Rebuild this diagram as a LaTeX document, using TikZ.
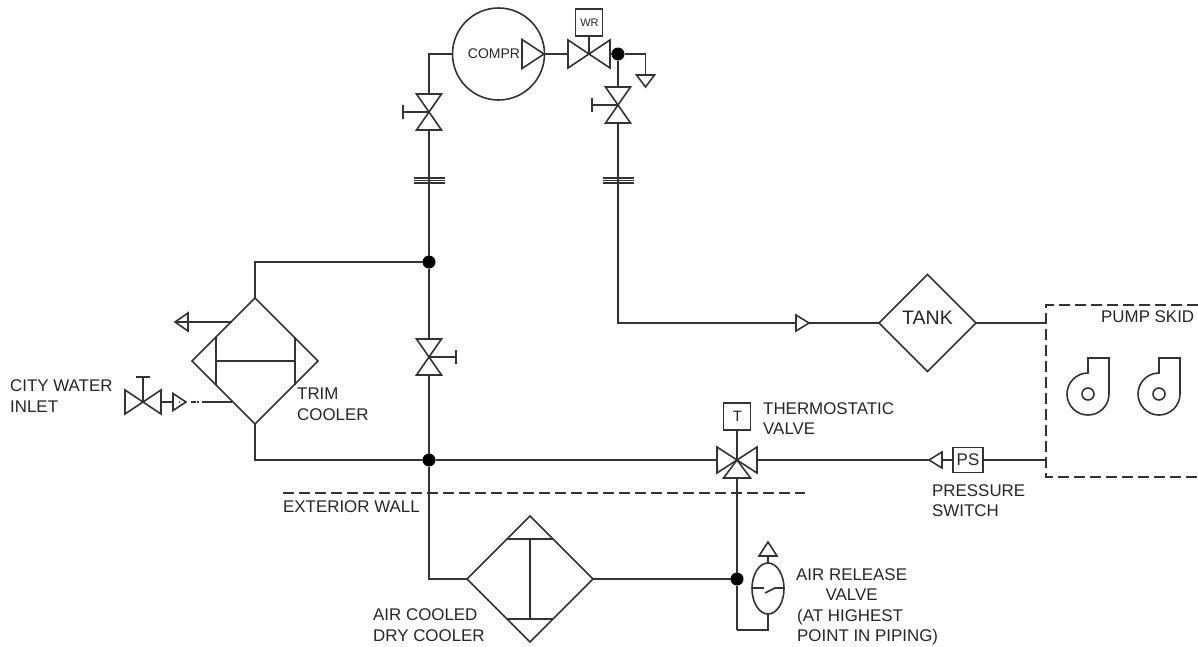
\documentclass[tikz,border=0pt]{standalone}
\usepackage{fontspec}
\setmainfont{Liberation Sans}
\usetikzlibrary{shapes.geometric}

\tikzset{
  pipe/.style={line width=1.6pt, draw=black!80},
  sym/.style={inner sep=0pt, outer sep=0pt, minimum width=#1},
  box/.style={draw=black!80, line width=1.6pt, inner sep=0pt, outer sep=0pt, minimum width=27pt, minimum height=27pt},
  dot/.style={circle, fill=black, inner sep=0pt, outer sep=0pt, minimum size=13pt},
  cooler/.style={diamond, draw=black!80, line width=1.6pt, inner sep=0pt, outer sep=0pt, minimum width=126pt, minimum height=126pt},
  lbl/.style={anchor=west, align=left, inner sep=0pt, text=black!85, font=\fontsize{16.9}{20.5}\selectfont}
}

\begin{document}
\begin{tikzpicture}[x=1pt, y=-1pt, >=stealth]

\useasboundingbox (0,0) rectangle (1198,646);

% main items
\node [circle, draw=black!80, line width=1.6pt, inner sep=0pt, outer sep=0pt, minimum size=92pt] (compr) at (498.5,54) {};
\node [cooler] (trim) at (255,361) {};
\node [cooler] (dry) at (530,579) {};
\node [diamond, draw=black!80, line width=1.6pt, inner sep=0pt, outer sep=0pt, minimum width=97pt, minimum height=97pt] (tank) at (927.5,323) {};
\node [text=black!85, font=\fontsize{19.5}{22}\selectfont] (tank-text) at (927.5,318) {TANK};
\node [ellipse, draw=black!80, line width=1.6pt, inner sep=0pt, outer sep=0pt, minimum width=32pt, minimum height=51pt] (release) at (768,588.5) {};

% valves
\node [sym=36pt, minimum height=24pt] (city-valve) at (143,402) {};
\node [sym=42pt, minimum height=28pt] (wr-valve) at (589,54) {};
\node [sym=40pt, minimum height=26pt] (t-valve) at (737,460) {};
\foreach \v in {city-valve,wr-valve,t-valve}
  \draw [pipe] (\v.north west) -- (\v.south east) -- (\v.north east) -- (\v.south west) -- cycle;

\node [sym=25pt, minimum height=36pt] (suction-valve) at (429,112) {};
\node [sym=25pt, minimum height=36pt] (return-valve) at (618,105) {};
\node [sym=25pt, minimum height=36pt] (bypass-valve) at (429,357) {};
\foreach \v in {suction-valve,return-valve,bypass-valve}
  \draw [pipe] (\v.north west) -- (\v.south east) -- (\v.south west) -- (\v.north east) -- cycle;

% triangles
\node [sym=22pt, minimum height=29pt] (compr-tip) at (533,54) {};
\node [sym=13pt, minimum height=17pt] (city-tip) at (179.5,402) {};
\node [sym=13pt, minimum height=16pt] (tank-tip) at (802.5,323) {};
\foreach \t in {compr-tip,city-tip,tank-tip}
  \draw [pipe] (\t.north west) -- (\t.east) -- (\t.south west) -- cycle;

\node [sym=13pt, minimum height=18pt] (trim-tip) at (181.5,322) {};
\node [sym=13pt, minimum height=16pt] (ps-tip) at (935.5,460) {};
\foreach \t in {trim-tip,ps-tip}
  \draw [pipe] (\t.north east) -- (\t.west) -- (\t.south east) -- cycle;

\node [sym=18pt, minimum height=14pt] (vent) at (768,549) {};
\node [sym=27pt, minimum height=18pt] (t-leg) at (737,469) {};
\foreach \t in {vent,t-leg}
  \draw [pipe] (\t.south west) -- (\t.north) -- (\t.south east) -- cycle;

\node [sym=18pt, minimum height=12pt] (drain) at (645.5,81) {};
\draw [pipe] (drain.north west) -- (drain.south) -- (drain.north east) -- cycle;

% instruments
\node [box] (wr) at (589,22.5) {};
\node [font=\fontsize{11}{12}\selectfont, text=black!85] (wr-text) at (589.5,23) {WR};
\node [box] (t-box) at (737,416.5) {};
\node [font=\fontsize{15}{16}\selectfont, text=black!85] (t-text) at (737.5,416.5) {T};
\node [box, minimum width=30pt, minimum height=25pt] (ps) at (968,460) {};
\node [font=\fontsize{16.9}{18}\selectfont, text=black!85] (ps-text) at (968,460) {PS};
\node [font=\fontsize{14}{16}\selectfont, text=black!85] (compr-text) at (494,54) {COMPR};

% junctions
\node [dot] (top-dot) at (618,54) {};
\node [dot] (mid-dot) at (429,262) {};
\node [dot] (low-dot) at (429,460) {};
\node [dot] (dry-dot) at (737,579) {};

% flanges
\node [sym=31pt, minimum height=5pt] (flange-1) at (429,180.5) {};
\node [sym=31pt, minimum height=5pt] (flange-2) at (618,180.5) {};
\foreach \f in {flange-1,flange-2} {
  \draw [line width=1.2pt, draw=black!80] (\f.north west) -- (\f.north east);
  \draw [line width=1.2pt, draw=black!80] (\f.west) -- (\f.east);
  \draw [line width=1.2pt, draw=black!80] (\f.south west) -- (\f.south east);
}

% free ends
\coordinate (skid-a) at (1046,323);
\coordinate (skid-b) at (1046,460);
\coordinate (trim-out) at (231.5,322);
\coordinate (trim-in) at (232,402);
\coordinate (release-low) at (737,630);

% pipes
\draw [pipe] (compr.west) -| (suction-valve.north);
\draw [pipe] (suction-valve.south) -- (flange-1.center);
\draw [pipe] (flange-1.center) -- (mid-dot);
\draw [pipe] (mid-dot) -- (bypass-valve.north);
\draw [pipe] (bypass-valve.south) -- (low-dot);
\draw [pipe] (mid-dot) -| (trim.north);
\draw [pipe] (trim.south) |- (low-dot);
\draw [pipe] (low-dot) -- (t-valve.west);
\draw [pipe] (low-dot) |- (dry.west);
\draw [pipe] (dry.east) -- (dry-dot);
\draw [pipe] (compr-tip.east) -- (wr-valve.west);
\draw [pipe] (wr-valve.east) -- (top-dot);
\draw [pipe] (top-dot) -| (drain.north);
\draw [pipe] (top-dot) -- (return-valve.north);
\draw [pipe] (return-valve.south) -- (flange-2.center);
\draw [pipe] (flange-2.center) |- (tank-tip.west);
\draw [pipe] (tank-tip.east) -- (tank.west);
\draw [pipe] (tank.east) -- (skid-a);
\draw [pipe] (t-valve.east) -- (ps-tip.west);
\draw [pipe] (ps-tip.east) -- (ps.west);
\draw [pipe] (ps.east) -- (skid-b);
\draw [pipe] (t-box.south) -- (t-valve.center);
\draw [pipe] (wr.south) -- (wr-valve.center);
\draw [pipe] (t-leg.south) -- (dry-dot);
\draw [pipe] (dry-dot) -- (release-low);
\draw [pipe] (release-low) -| (release.south);
\draw [pipe] (release.north) -- (vent.south);
\draw [pipe] (trim-out) -- (trim-tip.west);
\draw [pipe] (city-valve.east) -- (city-tip.west);
\draw [pipe] (city-tip.east) ++(5,0) -- ++(5,0);
\draw [pipe] (city-tip.east) ++(11,0) -- ++(2,0);
\draw [pipe] (city-tip.east) ++(16,0) -- (trim-in);
\fill [black!80] (city-tip.center) circle (0.8pt);

% handles
\foreach \a in {suction-valve, return-valve}
  \draw [pipe] (\a.center) -- ++(-26,0) ++(0,-7) -- ++(0,14);
\draw [pipe] (bypass-valve.center) -- ++(27,0) ++(0,-7) -- ++(0,14);
\draw [pipe] (city-valve.center) -- ++(0,-25) ++(-7,0) -- ++(14,0);

% cooler insides
\draw [pipe] (216,337) -- (216,385);
\draw [pipe] (295,337) -- (295,385);
\draw [pipe] (216,361) -- (295,361);
\draw [pipe] (507,539) -- (553,539);
\draw [pipe] (507,619) -- (553,619);
\draw [pipe] (530,539) -- (530,619);

% switch in the release valve
\draw [pipe] (752,588) -- (764,588);
\draw [pipe] (765,593) -- (775,588) -- (784,588);

% pumps
\foreach \p in {1088,1159}
  \draw [pipe] (\p,358) -- (\p+21,358) -- (\p+21,394) arc (0:-270:21 and -21) -- cycle
    (\p+6,394) arc (0:360:6);

% walls
\draw [pipe, dash pattern=on 11pt off 5pt] (283,493) -- (805,493);
\draw [pipe, dash pattern=on 11pt off 5pt] (1198,305) -- (1046,305) -- (1046,477) -- (1198,477);

% labels
\node [lbl] (city-label) at (10,396) {CITY WATER\\INLET};
\node [lbl] (trim-label) at (297,404.5) {TRIM\\COOLER};
\node [lbl] (thermo-label) at (763,418.5) {THERMOSTATIC\\VALVE};
\node [lbl] (pressure-label) at (932,500.5) {PRESSURE\\SWITCH};
\node [lbl] (wall-label) at (283,507) {EXTERIOR WALL};
\node [lbl] (dry-label) at (373,625) {AIR COOLED\\DRY COOLER};
\node [lbl] (skid-label) at (1101,317) {PUMP SKID};
\node [lbl, align=center] (release-label) at (796,584.5) {AIR RELEASE\\VALVE};
\node [lbl] (highest-label) at (797,627) {(AT HIGHEST\\POINT IN PIPING)};

\end{tikzpicture}
\end{document}
